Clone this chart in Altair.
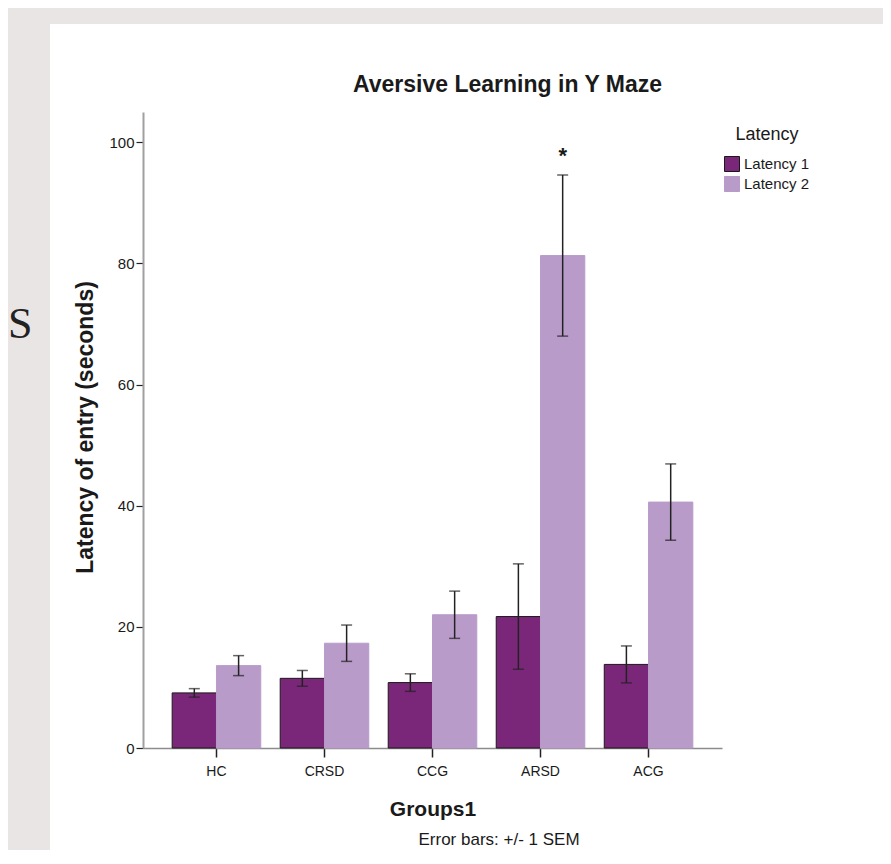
import altair as alt
import pandas as pd

# ---- data ----
groups = ["HC", "CRSD", "CCG", "ARSD", "ACG"]
series = ["Latency 1", "Latency 2"]
latency1_mean = [9.1, 11.5, 10.8, 21.7, 13.8]
latency1_sem = [0.7, 1.3, 1.45, 8.7, 3.05]
latency2_mean = [13.6, 17.3, 22.0, 81.3, 40.6]
latency2_sem = [1.65, 3.0, 3.9, 13.3, 6.3]
y_ticks = [0, 20, 40, 60, 80, 100]
star_group = ["ARSD"]
star_series = ["Latency 2"]
star_value = [96.5]

colors = ["#7b2779", "#b89bc9"]
FONT = "Liberation Sans"
TXT = "#1a1a1a"
Y_TITLE = "Latency of entry (seconds)"

rows = []
for g, m1, s1, m2, s2 in zip(groups, latency1_mean, latency1_sem, latency2_mean, latency2_sem):
    rows.append(dict(group=g, series=series[0], mean=m1, lo=m1 - s1, hi=m1 + s1))
    rows.append(dict(group=g, series=series[1], mean=m2, lo=m2 - s2, hi=m2 + s2))
df = pd.DataFrame(rows)
star_df = pd.DataFrame(dict(group=star_group, series=star_series, v=star_value, t=["*"]))
one = pd.DataFrame({"a": [0]})

xs = alt.X(
    "group:N", sort=groups,
    scale=alt.Scale(paddingInner=0.18, paddingOuter=0.27),
    axis=alt.Axis(labelAngle=0, tickSize=9, tickColor="#222", tickWidth=1.5,
                  domainColor="#8c8c8c", domainWidth=1.5, labelPadding=7,
                  labelFontSize=14, labelFont=FONT, labelColor=TXT,
                  titleFontSize=21, titleFont=FONT, titleFontWeight="bold",
                  titleColor=TXT, titleBaseline="alphabetic", titleY=67),
    title="Groups1",
)
xo = alt.XOffset("series:N", sort=series, scale=alt.Scale(paddingInner=0, paddingOuter=0))
yscale = alt.Scale(domain=[0, 105], nice=False)
yaxis = alt.Axis(values=y_ticks, tickSize=7, tickColor="#222", tickWidth=1.2,
                 domainColor="#a0a0a0", domainWidth=2, labelPadding=2,
                 labelFontSize=15, labelFont=FONT, labelColor=TXT,
                 titleFontSize=23, titleFont=FONT, titleFontWeight="bold",
                 titleColor=TXT, titleBaseline="alphabetic", titleX=-51, titleY=315,
                 titleAngle=-90, grid=False)

leg = alt.Legend(orient="none", legendX=581, legendY=14, title="Latency",
                 titleFontSize=18, titleFontWeight="normal", titleFont=FONT,
                 titleColor=TXT, titleAnchor="middle", titlePadding=12,
                 labelFontSize=15, labelFont=FONT, labelColor=TXT, labelOffset=4,
                 symbolType="square", symbolSize=225, symbolStrokeWidth=1,
                 rowPadding=0, padding=0)

bars = alt.Chart(df).mark_bar(strokeWidth=1).encode(
    x=xs, xOffset=xo,
    y=alt.Y("mean:Q", scale=yscale, axis=yaxis, title=Y_TITLE),
    fill=alt.Fill("series:N", scale=alt.Scale(domain=series, range=colors), legend=leg),
    stroke=alt.Stroke("series:N", scale=alt.Scale(domain=series, range=["#1a1a1a", colors[1]]), legend=leg),
)
rules = alt.Chart(df).mark_rule(color="#222", strokeWidth=1.5).encode(
    x=xs, xOffset=xo, y=alt.Y("lo:Q", title=Y_TITLE), y2="hi:Q")
caps_lo = alt.Chart(df).mark_tick(orient="horizontal", size=11, thickness=1.5, color="#222").encode(
    x=xs, xOffset=xo, y=alt.Y("lo:Q", title=Y_TITLE))
caps_hi = alt.Chart(df).mark_tick(orient="horizontal", size=11, thickness=1.5, color="#222").encode(
    x=xs, xOffset=xo, y=alt.Y("hi:Q", title=Y_TITLE))
star = alt.Chart(star_df).mark_text(fontSize=22, fontWeight="bold", font=FONT, color=TXT,
                                    baseline="alphabetic", align="center").encode(
    x=xs, xOffset=xo, y=alt.Y("v:Q", title=Y_TITLE), text="t:N")

# page decoration: grey margins, big serif "S", title and footer
GREY = "#e9e5e5"
grey_left = alt.Chart(one).mark_rect(color=GREY).encode(
    x=alt.value(-143), x2=alt.value(-93), y=alt.value(-112), y2=alt.value(760))
grey_top = alt.Chart(one).mark_rect(color=GREY).encode(
    x=alt.value(-143), x2=alt.value(760), y=alt.value(-112), y2=alt.value(-88))
big_s = alt.Chart(one).mark_text(fontSize=44, font="Liberation Serif", fontStyle="normal",
                                 fontWeight="normal", color="#222",
                                 align="left", baseline="alphabetic").encode(
    x=alt.value(-135), y=alt.value(226), text=alt.value("S"))
title = alt.Chart(one).mark_text(fontSize=23, font=FONT, fontWeight="bold", color=TXT,
                                 align="center", baseline="alphabetic").encode(
    x=alt.value(364.5), y=alt.value(-20), text=alt.value("Aversive Learning in Y Maze"))
footer = alt.Chart(one).mark_text(fontSize=17, font=FONT, color=TXT,
                                  align="center", baseline="alphabetic").encode(
    x=alt.value(356), y=alt.value(733), text=alt.value("Error bars:  +/- 1 SEM"))

chart = alt.layer(
    grey_left, grey_top, big_s, title, footer, bars, rules, caps_lo, caps_hi, star
).properties(
    width=579, height=636,
    autosize=alt.AutoSizeParams(type="none"),
    padding={"left": 135, "top": 104, "right": 161, "bottom": 102},
    background="white",
).configure_view(stroke=None)

chart.save("out.html", embed_options={"renderer": "svg", "actions": False})
